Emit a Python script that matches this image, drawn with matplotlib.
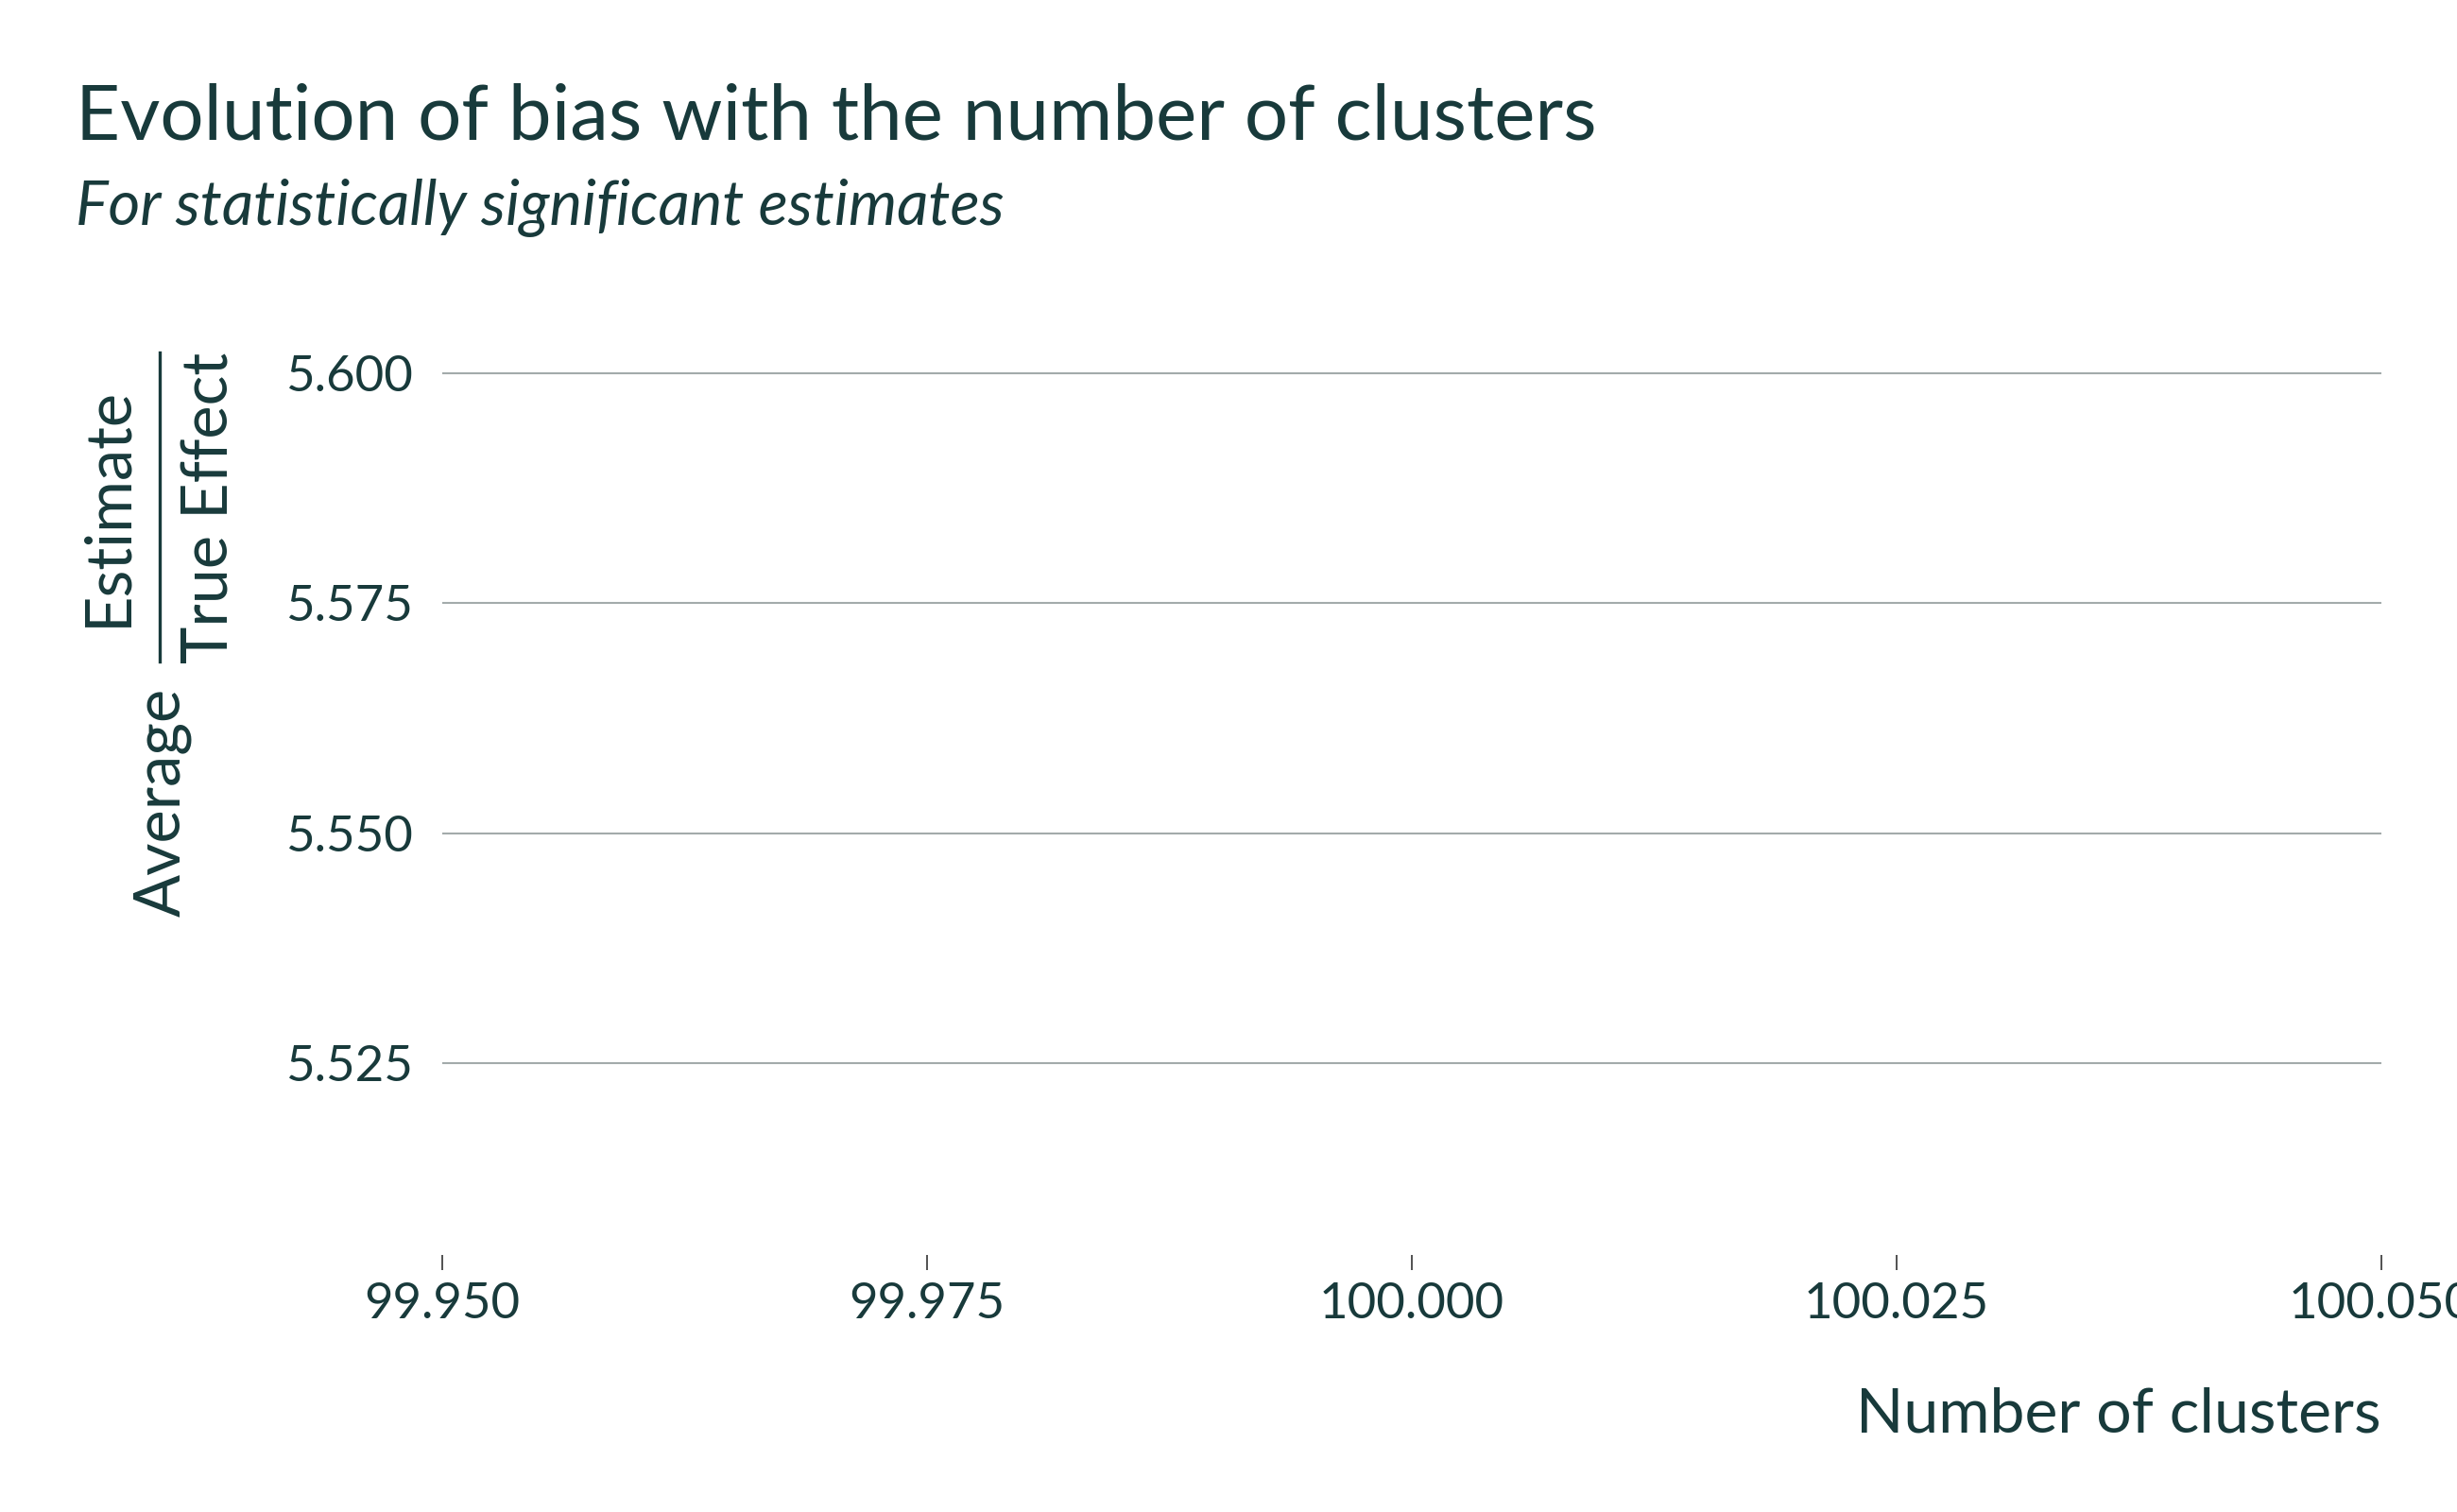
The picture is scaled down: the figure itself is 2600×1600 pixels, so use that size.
import numpy as np
import matplotlib
matplotlib.use("Agg")
import matplotlib.pyplot as plt
from matplotlib.lines import Line2D
from matplotlib.ticker import FormatStrFormatter

# ----------------------------------------------------------------------------
# DATOS: una sola observación (100 clusters) -> la línea no se ve
# ----------------------------------------------------------------------------
n_clusters = [100]
avg_ratio = [5.5542]

x_ticks = [99.950, 99.975, 100.000, 100.025, 100.050]
y_ticks = [5.525, 5.550, 5.575, 5.600]

TEXTO = "#183a3b"
GRILLA = "#a3abab"
W, H = 2600, 1600

plt.rcParams["font.family"] = ["Lato", "DejaVu Sans"]

fig = plt.figure(figsize=(13, 8), dpi=200)
fig.patch.set_facecolor("white")

ax = fig.add_axes([468 / W, (H - 1328) / H, (2520 - 468) / W, (1328 - 354) / H])
ax.plot(n_clusters, avg_ratio, color=TEXTO, lw=1.5)

ax.set_xlim(n_clusters[0] - 0.05, n_clusters[0] + 0.05)
ax.set_ylim(avg_ratio[0] - 0.05, avg_ratio[0] + 0.05)
ax.set_xticks(x_ticks)
ax.set_yticks(y_ticks)
ax.xaxis.set_major_formatter(FormatStrFormatter("%.3f"))
ax.yaxis.set_major_formatter(FormatStrFormatter("%.3f"))

for s in ax.spines.values():
    s.set_visible(False)
ax.grid(axis="y", color=GRILLA, lw=0.75)
ax.grid(axis="x", visible=False)
ax.set_axisbelow(True)
ax.tick_params(axis="x", length=5.8, width=0.6, color="#333333",
               pad=4.5, labelsize=19, labelcolor=TEXTO)
ax.tick_params(axis="y", length=0, pad=11.2, labelsize=19, labelcolor=TEXTO)

# títulos
fig.text(80 / W, 1 - 147 / H, "Evolution of bias with the number of clusters",
         fontsize=29.45, color=TEXTO, va="baseline", ha="left")
fig.text(80 / W, 1 - 238 / H, "For statistically significant estimates",
         fontsize=23.45, color=TEXTO, va="baseline", ha="left", style="italic")

# etiqueta eje x
fig.text(2520 / W, 1 - 1516 / H, "Number of clusters", fontsize=23.8,
         color=TEXTO, va="baseline", ha="right")

# etiqueta eje y: Average * Estimate / True Effect
kw = dict(fontsize=24, color=TEXTO, rotation=90, rotation_mode="anchor",
          ha="center", va="baseline")
fig.text(133 / W, 1 - 535.5 / H, "Estimate", **kw)
fig.text(242 / W, 1 - 537.5 / H, "True Effect", **kw)
fig.text(190 / W, 1 - 849 / H, "Average", **kw)
fig.add_artist(Line2D([169 / W, 169 / W], [1 - 373 / H, 1 - 700 / H],
                      transform=fig.transFigure, color=TEXTO, lw=1.2))

fig.savefig("out.png", dpi=200)
